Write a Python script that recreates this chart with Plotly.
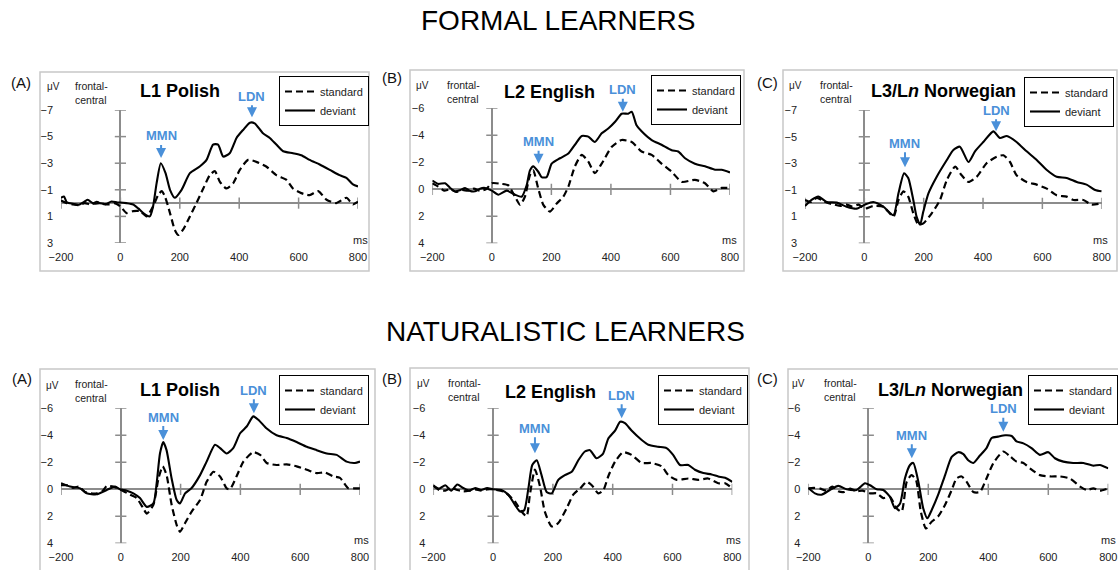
import plotly.graph_objects as go

# ---------------- DATA (µV, negative plotted up) ----------------
# FORMAL LEARNERS
fA_dev_t = [-200,-190,-180,-160,-140,-120,-110,-90,-70,-50,-30,-10,0,20,43,60,77,99,110,122,136,152,167,183,206,234,267,290,312,329,346,368,391,413,436,452,480,503,525,548,581,609,637,671,705,738,761,783,800]
fA_dev_v = [-0.4,-0.5,-0.05,0.05,0.12,-0.12,-0.25,0.05,0.0,0.08,-0.12,-0.05,-0.05,0.0,0.1,0.4,0.75,1.0,0.25,-1.5,-3.0,-2.25,-1.0,-0.4,-1.0,-2.25,-2.75,-3.25,-4.4,-4.4,-3.5,-3.75,-4.9,-5.5,-6.05,-6.0,-5.25,-4.9,-4.4,-3.9,-3.75,-3.6,-3.25,-2.9,-2.5,-2.1,-1.9,-1.4,-1.25]
fA_std_t = [-200,-180,-160,-140,-120,-100,-80,-60,-40,-20,0,21,43,66,88,110,127,139,150,167,183,195,211,234,256,279,301,318,335,357,380,402,430,458,491,525,559,581,609,637,666,694,727,761,783,800]
fA_std_v = [-0.2,0.0,0.1,0.15,0.0,0.1,-0.1,0.05,0.1,0.0,0.25,0.75,0.6,0.6,1.0,0.25,-0.6,-0.9,-0.5,0.75,2.0,2.4,2.0,1.0,0.0,-1.1,-2.1,-2.4,-1.6,-1.1,-1.5,-2.5,-3.25,-3.1,-2.75,-2.1,-1.75,-1.1,-0.75,-0.6,-0.9,-0.25,0.0,-0.4,0.1,-0.1]

fB_dev_t = [-200,-180,-157,-140,-124,-105,-90,-75,-57,-40,-23,0,22,50,78,100,117,128,139,156,167,184,201,229,257,279,302,324,346,369,391,414,436,458,470,486,503,537,570,604,626,649,682,716,750,772,800]
fB_dev_v = [-0.65,-0.4,-0.45,-0.1,0.15,0.05,-0.1,0.1,0.15,-0.05,-0.1,0.1,0.4,0.1,0.4,0.55,-0.3,-1.4,-1.7,-1.3,-0.9,-0.9,-1.9,-2.3,-2.65,-3.3,-3.95,-3.9,-3.5,-4.15,-4.5,-5.0,-5.6,-5.6,-5.75,-4.75,-4.3,-3.65,-3.3,-2.9,-2.8,-2.3,-1.9,-1.7,-1.45,-1.45,-1.25]
fB_std_t = [-200,-180,-160,-140,-120,-100,-80,-60,-40,-20,0,33,55,78,95,111,128,139,156,173,195,218,240,257,279,302,324,346,369,403,436,470,503,537,570,604,638,682,716,744,772,800]
fB_std_v = [-0.45,-0.2,0.1,0.0,0.2,0.05,0.1,-0.05,0.1,0.0,-0.45,-0.4,-0.3,0.55,1.15,0.55,-1.05,-1.4,-0.05,1.15,1.65,1.05,0.55,-0.2,-1.7,-2.55,-2.05,-1.2,-1.9,-3.15,-3.65,-3.5,-2.8,-2.55,-1.9,-1.3,-0.55,-0.7,-0.45,0.15,-0.1,-0.1]

fC_dev_t = [-200,-178,-155,-127,-93,-60,-26,2,30,64,98,115,134,148,165,176,188,199,216,244,278,300,322,351,373,401,435,457,480,513,547,581,615,648,682,716,749,778,800]
fC_dev_v = [0.2,-0.25,-0.5,-0.1,-0.05,0.25,0.4,0.1,-0.1,0.25,0.9,-0.75,-2.25,-1.9,-0.25,1.0,1.6,0.6,-0.75,-2.0,-3.25,-4.0,-4.25,-3.1,-3.9,-4.6,-5.4,-4.9,-5.05,-4.6,-3.9,-3.25,-2.5,-2.0,-1.9,-1.6,-1.4,-1.0,-0.9]
fC_std_t = [-200,-180,-160,-140,-120,-100,-80,-60,-40,-20,2,30,64,98,115,132,148,165,182,199,227,255,278,306,328,351,379,412,446,469,491,513,547,581,615,648,682,705,738,766,800]
fC_std_v = [-0.25,-0.1,-0.4,-0.2,0.0,0.1,0.2,0.1,0.25,0.1,0.4,0.2,0.25,1.0,-0.25,-0.9,-0.5,0.75,1.6,1.5,0.75,-0.25,-1.75,-2.75,-2.1,-1.6,-2.0,-3.0,-3.5,-3.6,-3.1,-2.1,-1.6,-1.4,-1.1,-0.6,-0.5,-0.25,-0.25,0.1,0.0]

# NATURALISTIC LEARNERS
nA_dev_t = [-200,-170,-136,-114,-81,-47,-19,-3,20,42,64,87,109,120,131,142,153,170,187,198,215,237,265,287,315,332,354,376,399,421,443,460,488,521,555,588,622,655,689,722,755,783,800]
nA_dev_v = [-0.45,-0.2,-0.07,0.3,0.37,0.05,-0.2,0.0,0.1,0.3,0.65,1.3,1.05,-0.45,-2.65,-3.5,-2.9,-0.8,0.8,1.05,0.3,-0.1,-1.05,-2.05,-3.3,-3.05,-2.65,-3.05,-4.15,-4.65,-5.4,-5.15,-4.5,-4.0,-3.8,-3.5,-3.15,-2.9,-2.65,-2.55,-2.05,-1.95,-2.05]
nA_std_t = [-200,-180,-160,-140,-120,-100,-80,-60,-47,-25,-3,31,53,75,87,109,126,140,153,170,187,198,215,237,265,287,310,332,354,365,387,410,443,466,488,521,555,588,622,655,683,711,733,761,783,800]
nA_std_v = [-0.3,-0.3,-0.1,-0.2,0.2,0.3,0.3,0.1,-0.25,-0.2,0.0,0.4,0.65,1.4,1.8,1.15,-0.8,-1.7,-1.05,1.15,2.65,3.15,2.5,1.65,0.8,-0.55,-1.3,-0.95,-0.07,0.0,-0.95,-2.05,-2.75,-2.55,-1.95,-1.8,-1.85,-1.7,-1.45,-1.2,-1.25,-0.95,-0.85,-0.07,-0.07,-0.07]

nB_dev_t = [-200,-180,-160,-140,-120,-100,-80,-60,-40,-20,0,28,51,73,90,104,118,131,146,162,179,196,218,240,263,285,307,324,346,368,385,408,425,441,463,497,519,552,580,602,625,653,675,703,731,753,776,800]
nB_dev_v = [-0.3,-0.05,-0.3,0.1,-0.35,-0.1,0.1,-0.1,0.05,-0.1,0.0,0.05,0.4,1.15,1.65,1.55,-0.07,-1.8,-2.15,-1.05,0.2,0.3,-0.7,-1.05,-1.3,-2.15,-2.8,-2.9,-2.3,-2.65,-3.75,-4.35,-5.0,-4.9,-4.35,-3.65,-3.3,-3.15,-3.05,-2.55,-1.8,-1.8,-1.45,-1.2,-1.1,-0.95,-0.85,-0.55]
nB_std_t = [-200,-180,-160,-140,-120,-100,-80,-60,-40,-20,0,39,73,95,112,123,140,157,173,196,218,246,268,291,313,330,352,369,385,408,435,463,497,530,564,586,614,653,686,719,753,776,800]
nB_std_v = [-0.25,0.05,0.1,-0.1,0.05,0.15,0.1,0.0,0.1,0.0,0.0,0.2,0.9,1.65,2.0,0.4,-1.45,-0.2,1.65,2.75,2.5,1.4,0.4,-0.07,-0.55,-0.3,0.3,0.05,-0.95,-2.05,-2.75,-2.55,-1.95,-1.95,-1.7,-1.05,-0.7,-0.8,-0.7,-0.8,-0.45,-0.45,-0.07]

nC_dev_t = [-200,-178,-156,-128,-100,-72,-39,-11,6,28,50,72,89,106,122,139,150,167,183,197,211,233,256,278,300,317,333,350,372,394,411,433,456,478,494,517,544,572,600,622,650,683,717,750,772,800]
nC_dev_v = [-0.1,0.3,0.4,0.05,-0.25,0.0,0.05,-0.45,-0.3,0.0,0.05,0.55,1.4,1.05,-0.8,-1.8,-1.95,-0.55,1.4,2.15,1.55,0.4,-1.05,-2.4,-2.75,-2.6,-2.15,-1.95,-2.5,-3.05,-3.8,-3.9,-4.0,-3.95,-3.55,-3.4,-3.05,-2.55,-2.75,-2.3,-2.05,-1.95,-1.95,-1.75,-1.8,-1.55]
nC_std_t = [-200,-180,-160,-140,-120,-100,-80,-60,-40,-20,6,28,50,72,94,111,128,144,159,175,192,211,233,256,278,294,311,328,350,372,394,417,450,472,494,517,539,572,606,639,672,706,728,750,772,800]
nC_std_v = [-0.07,-0.1,-0.05,0.1,-0.2,0.15,0.2,-0.05,0.15,0.1,0.3,0.3,0.65,0.55,1.4,1.65,-0.55,-1.05,-0.7,1.65,2.9,2.4,2.0,1.15,0.05,-0.8,-0.95,-0.55,0.2,0.2,-0.8,-1.95,-2.8,-2.45,-2.05,-1.95,-1.55,-1.05,-0.95,-0.95,-0.8,-0.2,0.05,-0.07,0.1,-0.07]

x_ticks = [-200, 0, 200, 400, 600, 800]
y_ticks_odd = [-7, -5, -3, -1, 1, 3]
y_ticks_even = [-6, -4, -2, 0, 2, 4]

# component peak labels: (latency ms, amplitude µV) of arrow tips
fA_mmn, fA_ldn = (137, -3.4), (443, -6.45)
fB_mmn, fB_ldn = (157, -1.9), (440, -5.75)
fC_mmn, fC_ldn = (137, -2.7), (444, -5.4)
nA_mmn, nA_ldn = (142, -3.65), (445, -5.63)
nB_mmn, nB_ldn = (140, -2.67), (430, -5.26)
nC_mmn, nC_ldn = (145, -2.3), (450, -4.27)

# ---------------- LAYOUT HELPERS ----------------
W, H = 1118, 570
def px(x):
    return x / W
def py(y):
    return 1 - y / H

FONT = "Liberation Sans, Arial, sans-serif"
GREY = "#8c8c8c"
BLUE = "#4a90d9"

panels = [
    dict(letter="(A)", title="<b>L1 Polish</b>", std=(fA_std_t, fA_std_v), dev=(fA_dev_t, fA_dev_v),
         dom_x=(61, 358), dom_y=(110, 243), yr=(3, -7), yt=y_ticks_odd, box=(40, 369, 72, 271),
         leg=(369, 76), let_xy=(21, 82), muv=(45, 86), fc=(73, 93), ms=(360, 240), title_xy=(180, 91),
         mmn=fA_mmn, ldn=fA_ldn, ay=(-22, -21)),
    dict(letter="(B)", title="<b>L2 English</b>", std=(fB_std_t, fB_std_v), dev=(fB_dev_t, fB_dev_v),
         dom_x=(432.3, 730), dom_y=(108.3, 243.3), yr=(4, -6), yt=y_ticks_even, box=(410, 744, 70, 271),
         leg=(741, 75), let_xy=(392, 78), muv=(414, 85), fc=(445, 92), ms=(730, 240), title_xy=(549, 92),
         mmn=fB_mmn, ldn=fB_ldn, ay=(-22, -22)),
    dict(letter="(C)", title="<b>L3/L<i>n</i> Norwegian</b>", std=(fC_std_t, fC_std_v), dev=(fC_dev_t, fC_dev_v),
         dom_x=(805, 1101.7), dom_y=(110, 243.3), yr=(3, -7), yt=y_ticks_odd, box=(783, 1117, 70, 271),
         leg=(1114, 77), let_xy=(767, 82), muv=(787, 85), fc=(818, 92), ms=(1100, 240), title_xy=(943, 91),
         mmn=fC_mmn, ldn=fC_ldn, ay=(-24, -21)),
    dict(letter="(A)", title="<b>L1 Polish</b>", std=(nA_std_t, nA_std_v), dev=(nA_dev_t, nA_dev_v),
         dom_x=(61, 360), dom_y=(408.3, 543.3), yr=(4, -6), yt=y_ticks_even, box=(40, 375, 369, 580),
         leg=(369, 375), let_xy=(22, 378), muv=(44, 385), fc=(73, 391), ms=(361, 540), title_xy=(180, 390),
         mmn=nA_mmn, ldn=nA_ldn, ay=(-23, -23)),
    dict(letter="(B)", title="<b>L2 English</b>", std=(nB_std_t, nB_std_v), dev=(nB_dev_t, nB_dev_v),
         dom_x=(433.3, 732.3), dom_y=(408.3, 543.3), yr=(4, -6), yt=y_ticks_even, box=(410, 749, 368, 580),
         leg=(748, 375), let_xy=(392, 378), muv=(415, 383), fc=(446, 390), ms=(733, 540), title_xy=(550, 392),
         mmn=nB_mmn, ldn=nB_ldn, ay=(-25, -23)),
    dict(letter="(C)", title="<b>L3/L<i>n</i> Norwegian</b>", std=(nC_std_t, nC_std_v), dev=(nC_dev_t, nC_dev_v),
         dom_x=(808.3, 1108.3), dom_y=(408.3, 543.3), yr=(4, -6), yt=y_ticks_even, box=(788, 1125, 369, 580),
         leg=(1118, 375), let_xy=(767, 378), muv=(790, 383), fc=(822, 390), ms=(1108, 540), title_xy=(950, 390),
         mmn=nC_mmn, ldn=nC_ldn, ay=(-23, -23)),
]

fig = go.Figure()
layout = dict(width=W, height=H, margin=dict(l=0, r=0, t=0, b=0, autoexpand=False), paper_bgcolor="white",
              plot_bgcolor="rgba(0,0,0,0)", font=dict(family=FONT, color="#222"))
annotations = []
shapes = []


def label(text, x, y, size, color="#222", xanchor="center", align="center"):
    return dict(text=text, x=px(x), y=py(y), xref="paper", yref="paper", showarrow=False,
                xanchor=xanchor, yanchor="middle", align=align, font=dict(size=size, color=color))


for i, p in enumerate(panels):
    n = i + 1
    xa = "x" if n == 1 else f"x{n}"
    ya = "y" if n == 1 else f"y{n}"
    leg = "legend" if n == 1 else f"legend{n}"

    layout["xaxis" if n == 1 else f"xaxis{n}"] = dict(
        domain=[px(p["dom_x"][0]), px(p["dom_x"][1])], range=[-200, 800], anchor=ya,
        tickvals=x_ticks, showgrid=False, showline=False, ticks="", automargin=False,
        zeroline=True, zerolinecolor=GREY, zerolinewidth=1.6,
        tickfont=dict(size=11, color="#222"), ticklabelstandoff=6, fixedrange=True)
    layout["yaxis" if n == 1 else f"yaxis{n}"] = dict(
        domain=[py(p["dom_y"][1]), py(p["dom_y"][0])], range=list(p["yr"]), anchor=xa,
        tickvals=p["yt"], showgrid=False, showline=False, ticks="", automargin=False,
        zeroline=True, zerolinecolor=GREY, zerolinewidth=1.6,
        tickfont=dict(size=11, color="#222"), ticklabelstandoff=7, fixedrange=True)

    # tick marks on the crossing axes
    fig.add_trace(go.Scatter(
        x=[0] * len(p["yt"]) + x_ticks, y=p["yt"] + [0] * len(x_ticks),
        mode="markers", xaxis=xa, yaxis=ya, showlegend=False, hoverinfo="skip",
        marker=dict(symbol=["line-ew"] * len(p["yt"]) + ["line-ns"] * len(x_ticks),
                    size=8, line=dict(color=GREY, width=1.5))))

    fig.add_trace(go.Scatter(x=p["std"][0], y=p["std"][1], mode="lines", name="standard",
                             xaxis=xa, yaxis=ya, legend=leg,
                             line=dict(color="black", width=2.2, dash="7px,4px", shape="spline", smoothing=0.6)))
    fig.add_trace(go.Scatter(x=p["dev"][0], y=p["dev"][1], mode="lines", name="deviant",
                             xaxis=xa, yaxis=ya, legend=leg,
                             line=dict(color="black", width=2.1, shape="spline", smoothing=0.6)))

    layout[leg] = dict(x=px(p["leg"][0]), y=py(p["leg"][1]), xanchor="right", yanchor="top",
                       bgcolor="white", bordercolor="black", borderwidth=1,
                       font=dict(size=11, color="#222"), tracegroupgap=0, itemwidth=30)

    # panel frame
    b = p["box"]
    shapes.append(dict(type="rect", xref="paper", yref="paper", x0=px(b[0]), x1=px(b[1]),
                       y0=py(b[3]), y1=py(b[2]), line=dict(color="#c8c8c8", width=1.5), layer="below"))

    # texts
    annotations += [
        label(p["letter"], *p["let_xy"], 15, "#111"),
        label(p["title"], *p["title_xy"], 18, "black"),
        label("μV", *p["muv"], 10, xanchor="left"),
        label("frontal-<br>central", *p["fc"], 10.5, xanchor="left", align="left"),
        label("ms", *p["ms"], 11),
        dict(text="<b>MMN</b>", x=p["mmn"][0], y=p["mmn"][1], xref=xa, yref=ya, showarrow=True,
             ax=0, ay=p["ay"][0], arrowhead=2, arrowsize=1, arrowwidth=2, arrowcolor=BLUE,
             font=dict(size=13, color=BLUE)),
        dict(text="<b>LDN</b>", x=p["ldn"][0], y=p["ldn"][1], xref=xa, yref=ya, showarrow=True,
             ax=0, ay=p["ay"][1], arrowhead=2, arrowsize=1, arrowwidth=2, arrowcolor=BLUE,
             font=dict(size=13, color=BLUE)),
    ]

annotations += [
    label("FORMAL LEARNERS", 558, 20, 28, "black"),
    label("NATURALISTIC LEARNERS", 565, 331, 28, "black"),
]

layout["annotations"] = annotations
layout["shapes"] = shapes
fig.update_layout(**layout)
fig.write_html("out.html", config={"displayModeBar": False},
               post_script="document.body.style.margin='0px';")
